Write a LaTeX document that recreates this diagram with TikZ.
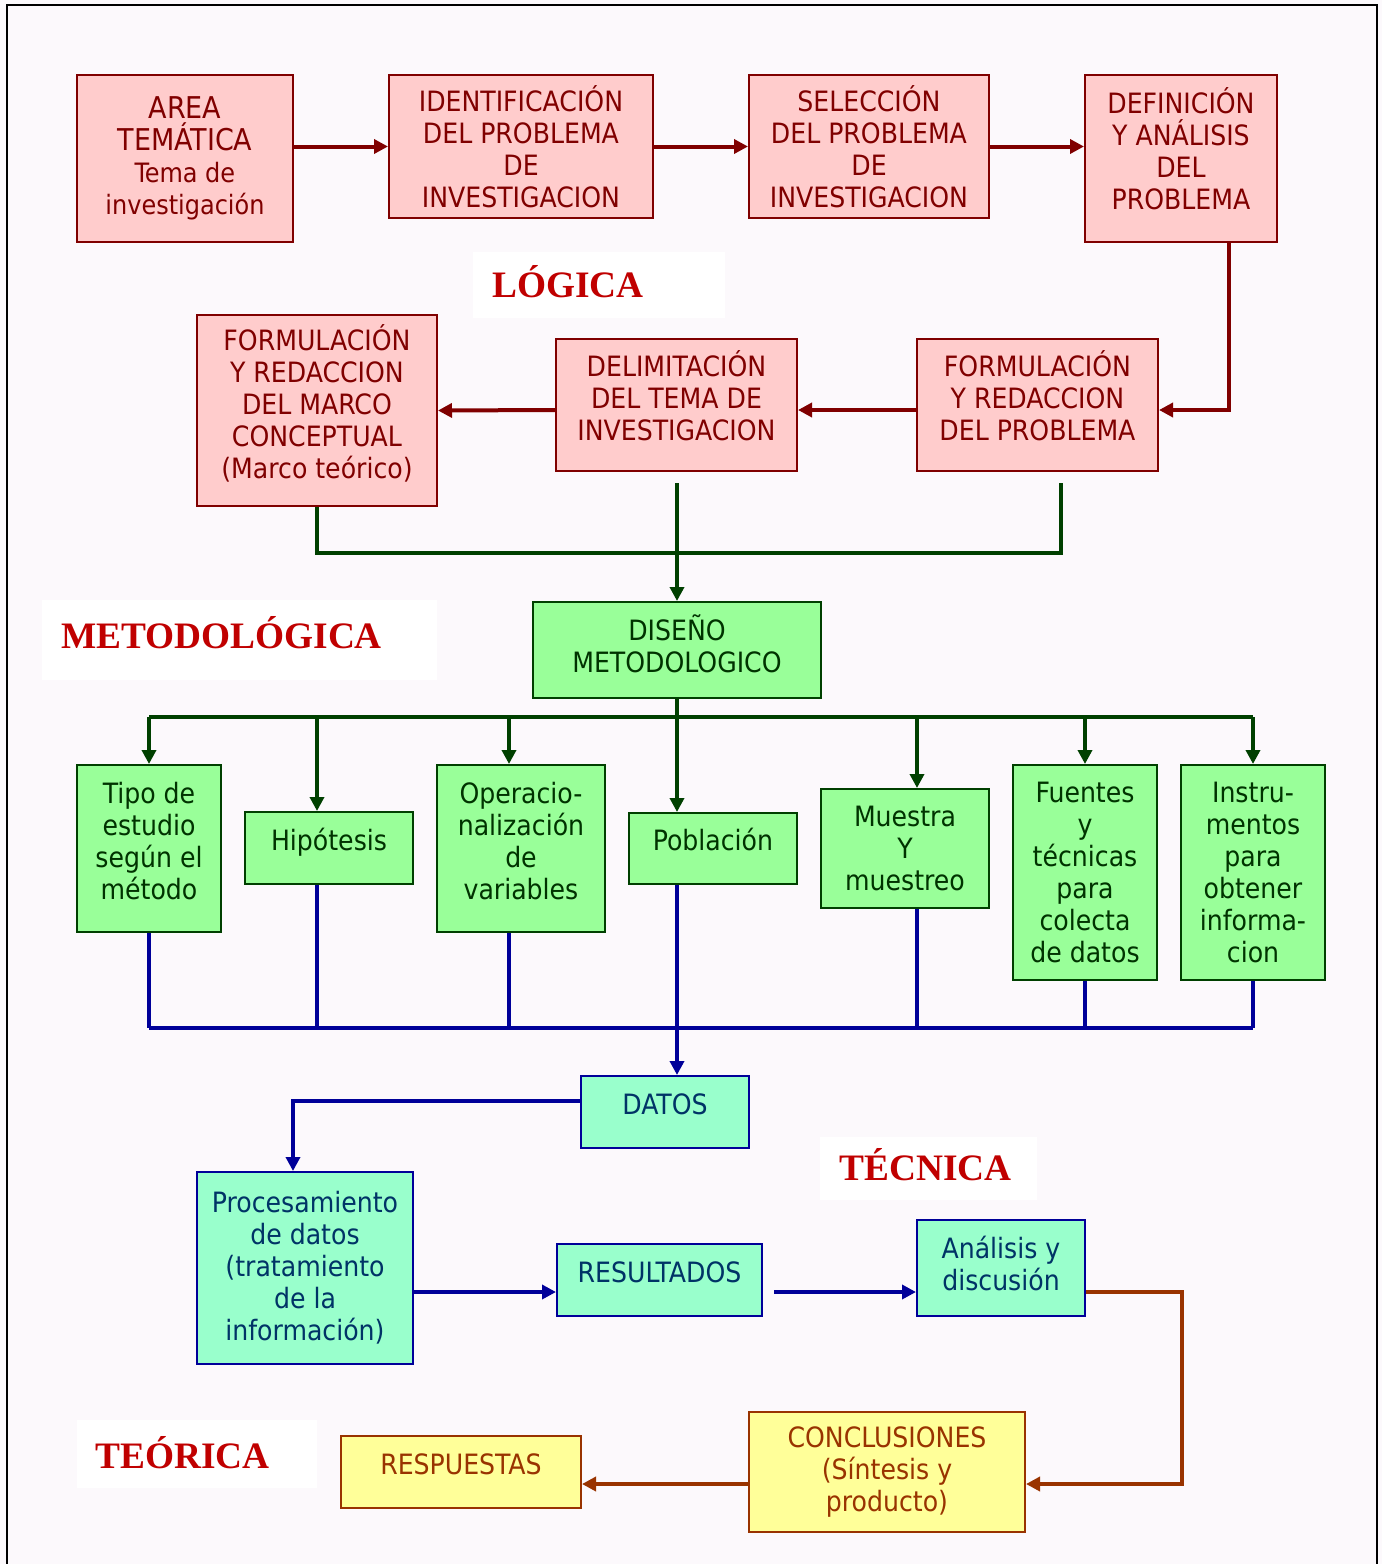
\documentclass[tikz,border=0pt]{standalone}
\usepackage{fontspec}
\setmainfont{DejaVu Sans Condensed}
\newfontfamily\titlefont{Liberation Serif}
\usetikzlibrary{arrows.meta,calc}

\definecolor{pagebg}{HTML}{FCF9FC}
\definecolor{pinkfill}{HTML}{FFCCCC}
\definecolor{darkred}{HTML}{800000}
\definecolor{greenfill}{HTML}{99FF99}
\definecolor{darkgreen}{HTML}{004000}
\definecolor{greentext}{HTML}{003300}
\definecolor{aquafill}{HTML}{99FFCC}
\definecolor{navy}{HTML}{000099}
\definecolor{aquatext}{HTML}{003366}
\definecolor{yellowfill}{HTML}{FFFF99}
\definecolor{brown}{HTML}{993300}
\definecolor{titlered}{HTML}{C00000}

\newcommand\boxfont{\fontsize{21}{24}\selectfont}
\newcommand\bigboxfont{\fontsize{22.5}{26}\selectfont}
\newcommand\smallboxfont{\fontsize{20}{24}\selectfont}

\tikzset{
  px/.style 2 args={minimum width=#1*0.75pt, minimum height=#2*0.75pt},
  box/.style={draw, line width=1.5pt, align=center, inner sep=0pt, font=\boxfont},
  oneline/.style={text height=7.5pt, text depth=4.5pt},
  lift/.style={text depth=#1},
  pinkbox/.style={box, fill=pinkfill, draw=darkred, text=darkred},
  greenbox/.style={box, fill=greenfill, draw=darkgreen, text=greentext},
  aquabox/.style={box, fill=aquafill, draw=navy, text=aquatext},
  yellowbox/.style={box, fill=yellowfill, draw=brown, text=brown},
  tip/.style={-{Triangle[length=10.5pt,width=10.5pt]}},
  redline/.style={line width=3pt, draw=darkred},
  greenline/.style={line width=3pt, draw=darkgreen},
  blueline/.style={line width=3pt, draw=navy},
  brownline/.style={line width=3pt, draw=brown},
  heading/.style={font=\titlefont\bfseries\fontsize{28}{30}\selectfont, text=titlered,
    inner sep=0pt, text height=0.66em, text depth=0pt},
}

\begin{document}
\begin{tikzpicture}[x=0.75pt, y=-0.75pt]
  % page
  \fill[pagebg] (0,0) rectangle (1382,1564);
  \useasboundingbox (0,0) rectangle (1382,1564);
  \draw[line width=1.5pt, black] (7,1564) -- (7,5) -- (1377,5) -- (1377,1564);

  % white panels behind the stage headings
  \fill[white] (473,252) rectangle (725,318);
  \fill[white] (42,600) rectangle (437,680);
  \fill[white] (820,1137) rectangle (1037,1200);
  \fill[white] (77,1420) rectangle (317,1488);

  \node[heading] (hlog) at (568,293) {LÓGICA};
  \node[heading] (hmet) at (221.5,644) {METODOLÓGICA};
  \node[heading] (htec) at (925.5,1176) {TÉCNICA};
  \node[heading] (hteo) at (182.5,1464) {TEÓRICA};

  % logical stage
  \node[pinkbox, px={216}{167}] (area) at (185,158.5)
    {{\bigboxfont AREA}\\{\bigboxfont TEMÁTICA}\\{\smallboxfont Tema de}\\{\smallboxfont investigación}};
  \node[pinkbox, px={264}{143}] (ident) at (521,146.5)
    {IDENTIFICACIÓN\\DEL PROBLEMA\\DE\\INVESTIGACION};
  \node[pinkbox, px={240}{143}] (selec) at (869,146.5)
    {SELECCIÓN\\DEL PROBLEMA\\DE\\INVESTIGACION};
  \node[pinkbox, lift=15pt, px={192}{167}] (defin) at (1181,158.5)
    {DEFINICIÓN\\Y ANÁLISIS\\DEL\\PROBLEMA};
  \node[pinkbox, lift=12.75pt, px={240}{191}] (marco) at (317,410.5)
    {FORMULACIÓN\\Y REDACCION\\DEL MARCO\\CONCEPTUAL\\(Marco teórico)};
  \node[pinkbox, lift=13.5pt, px={241}{132}] (delim) at (676.5,405)
    {DELIMITACIÓN\\DEL TEMA DE\\INVESTIGACION};
  \node[pinkbox, lift=13.5pt, px={241}{132}] (fprob) at (1037.5,405)
    {FORMULACIÓN\\Y REDACCION\\DEL PROBLEMA};

  % methodological stage
  \node[greenbox, lift=9pt, px={288}{96}] (diseno) at (677,650) {DISEÑO\\METODOLOGICO};
  \node[greenbox, lift=12pt, px={144}{167}] (tipo) at (149,848.5) {Tipo de\\estudio\\según el\\método};
  \node[greenbox, oneline, px={168}{72}] (hipo) at (329,848) {Hipótesis};
  \node[greenbox, lift=12pt, px={168}{167}] (oper) at (521,848.5) {Operacio-\\nalización\\de\\variables};
  \node[greenbox, oneline, px={168}{71}] (pobl) at (713,848.5) {Población};
  \node[greenbox, px={168}{119}] (mues) at (905,848.5) {Muestra\\Y\\muestreo};
  \node[greenbox, px={144}{215}] (fuen) at (1085,872.5) {Fuentes\\y\\técnicas\\para\\colecta\\de datos};
  \node[greenbox, px={144}{215}] (inst) at (1253,872.5) {Instru-\\mentos\\para\\obtener\\informa-\\cion};

  % technical stage
  \node[aquabox, oneline, px={168}{72}] (datos) at (665,1112) {DATOS};
  \node[aquabox, px={216}{192}] (proc) at (305,1268)
    {Procesamiento\\de datos\\(tratamiento\\de la\\información)};
  \node[aquabox, oneline, px={205}{72}] (result) at (659.5,1280) {RESULTADOS};
  \node[aquabox, lift=7.5pt, px={168}{96}] (anal) at (1001,1268) {Análisis y\\discusión};

  % theoretical stage
  \node[yellowbox, px={276}{120}] (concl) at (887,1472) {CONCLUSIONES\\(Síntesis y\\producto)};
  \node[yellowbox, oneline, px={240}{72}] (resp) at (461,1472) {RESPUESTAS};

  % logical chain
  \draw[redline, tip] (ident.west -| area.east) -- (ident.west);
  \draw[redline, tip] (ident.east) -- (selec.west);
  \draw[redline, tip] (selec.east) -- (selec.east -| defin.west);
  \draw[redline, tip] ($(defin.south)+(48,0)$) |- ($(fprob.east)+(0,5)$);
  \draw[redline, tip] ($(fprob.west)+(0,5)$) -- ($(delim.east)+(0,5)$);
  \draw[redline, tip] ($(delim.west)+(0,5)$) -- (marco.east);

  % gathering into the methodological design
  \coordinate (delimfoot) at (677,483);
  \coordinate (fprobfoot) at (1061,483);
  \coordinate (gjoin) at (677,553);
  \draw[greenline] (marco.south) |- (gjoin) -| (fprobfoot);
  \draw[greenline, tip] (delimfoot) -- (diseno.north);

  % branching of the methodological design
  \coordinate (gbus) at (677,717);
  \draw[greenline] (diseno.south) -- (gbus);
  \draw[greenline] (tipo.north |- gbus) -- (inst.north |- gbus);
  \draw[greenline, tip] (tipo.north |- gbus) -- (tipo.north);
  \draw[greenline, tip] ($(hipo.north |- gbus)+(-12,0)$) -- ($(hipo.north)+(-12,0)$);
  \draw[greenline, tip] ($(oper.north |- gbus)+(-12,0)$) -- ($(oper.north)+(-12,0)$);
  \draw[greenline, tip] ($(pobl.north |- gbus)+(-36,0)$) -- ($(pobl.north)+(-36,0)$);
  \draw[greenline, tip] ($(mues.north |- gbus)+(12,0)$) -- ($(mues.north)+(12,0)$);
  \draw[greenline, tip] (fuen.north |- gbus) -- (fuen.north);
  \draw[greenline, tip] (inst.north |- gbus) -- (inst.north);

  % collection into the data
  \coordinate (bbus) at (677,1028);
  \draw[blueline] (tipo.south |- bbus) -- (inst.south |- bbus);
  \draw[blueline] (tipo.south) -- (tipo.south |- bbus);
  \draw[blueline] ($(hipo.south)+(-12,0)$) -- ($(hipo.south |- bbus)+(-12,0)$);
  \draw[blueline] ($(oper.south)+(-12,0)$) -- ($(oper.south |- bbus)+(-12,0)$);
  \draw[blueline] ($(mues.south)+(12,0)$) -- ($(mues.south |- bbus)+(12,0)$);
  \draw[blueline] (fuen.south) -- (fuen.south |- bbus);
  \draw[blueline] (inst.south) -- (inst.south |- bbus);
  \draw[blueline, tip] ($(pobl.south)+(-36,0)$) -- ($(datos.north)+(12,0)$);

  % technical chain
  \draw[blueline, tip] ($(datos.west)+(0,-11)$) -| ($(proc.north)+(-12,0)$);
  \draw[blueline, tip] ($(proc.east)+(0,24)$) -- ($(result.west)+(0,12)$);
  \draw[blueline, tip] ($(result.east)+(11,12)$) -- ($(anal.west)+(0,24)$);

  % theoretical chain
  \draw[brownline, tip] ($(anal.east)+(0,24)$) -- ++(96,0) |- ($(concl.east)+(0,12)$);
  \draw[brownline, tip] ($(concl.west)+(0,12)$) -- ($(resp.east)+(0,12)$);
\end{tikzpicture}
\end{document}
